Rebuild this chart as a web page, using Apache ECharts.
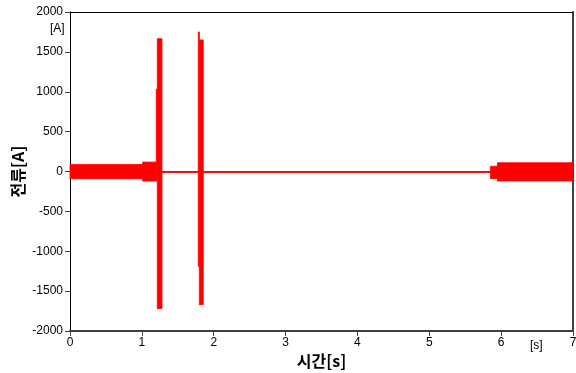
<!DOCTYPE html>
<html>
<head>
<meta charset="utf-8">
<script src="https://cdn.jsdelivr.net/npm/echarts@6/dist/echarts.min.js"></script>
<style>html,body{margin:0;padding:0;background:#fff;}#c{width:576px;height:373px;}</style>
</head>
<body>
<div id="c"></div>
<script>
// Envelope of the current signal: time segments [s] with upper / lower current [A]
var segStart = [0,    1.01, 1.200, 1.215, 1.280, 1.785, 1.800, 1.855, 5.85, 5.95];
var segEnd   = [1.01, 1.200, 1.216, 1.280, 1.785, 1.801, 1.855, 5.85, 5.95, 7.0];
var segUpper = [88,   118,  1030,  1665,  0,     1750,  1650,  0,    66,   110];
var segLower = [-90,  -120, -120,  -1720, 0,     -1190, -1670, 0,    -90,  -118];
// baseline trace
var lineTime = [0, 7];
var lineVal  = [0, 0];
var xTicks = [0, 1, 2, 3, 4, 5, 6, 7];
var yTicks = [-2000, -1500, -1000, -500, 0, 500, 1000, 1500, 2000];

var segData = segStart.map(function (s, i) { return [s, segEnd[i], segUpper[i], segLower[i]]; });
var lineData = lineTime.map(function (t, i) { return [t, lineVal[i]]; });

var chart = echarts.init(document.getElementById('c'), null, {renderer: 'canvas'});
var font = 'Liberation Sans, Arial, sans-serif';
var kfont = '"Noto Sans CJK KR", sans-serif';
chart.setOption({
  animation: false,
  backgroundColor: '#fff',
  grid: {left: 70, right: 3, top: 12, bottom: 42, containLabel: false, outerBoundsMode: 'none'},
  xAxis: [{
    type: 'value', min: xTicks[0], max: xTicks[xTicks.length - 1], interval: 1,
    position: 'bottom',
    name: '시간[s]', nameLocation: 'middle', nameGap: 22, nameMoveOverlap: false,
    nameTextStyle: {fontFamily: kfont, fontWeight: 'bold', fontSize: 16, color: '#000'},
    axisLine: {show: true, onZero: false, lineStyle: {color: '#404040', width: 2}},
    axisTick: {show: true, inside: false, length: 5, lineStyle: {color: '#404040', width: 1}},
    axisLabel: {color: '#000', fontFamily: font, fontSize: 12, margin: 6, formatter: function (v) { return String(v); }},
    splitLine: {show: false}
  }, {
    type: 'value', min: 0, max: 7, position: 'top',
    axisLine: {show: true, onZero: false, lineStyle: {color: '#000', width: 1}},
    axisTick: {show: false}, axisLabel: {show: false}, splitLine: {show: false}
  }],
  yAxis: [{
    type: 'value', min: yTicks[0], max: yTicks[yTicks.length - 1], interval: 500,
    position: 'left',
    name: '전류[A]', nameLocation: 'middle', nameGap: 44, nameRotate: 90, nameMoveOverlap: false,
    nameTextStyle: {fontFamily: kfont, fontWeight: 'bold', fontSize: 16, color: '#000'},
    axisLine: {show: true, onZero: false, lineStyle: {color: '#000', width: 1}},
    axisTick: {show: true, inside: false, length: 5, lineStyle: {color: '#404040', width: 1}},
    axisLabel: {color: '#000', fontFamily: font, fontSize: 12, margin: 7, formatter: function (v) { return String(v); }},
    splitLine: {show: false}
  }, {
    type: 'value', min: -2000, max: 2000, position: 'right',
    axisLine: {show: true, onZero: false, lineStyle: {color: '#404040', width: 2}},
    axisTick: {show: false}, axisLabel: {show: false}, splitLine: {show: false}
  }],
  graphic: [
    {type: 'text', left: 50, top: 23, style: {text: '[A]', font: '12px ' + font, fill: '#000'}},
    {type: 'text', left: 530, top: 340, style: {text: '[s]', font: '12px ' + font, fill: '#000'}}
  ],
  series: [{
    type: 'line', data: lineData, xAxisIndex: 0, yAxisIndex: 0,
    showSymbol: false, symbol: 'none', lineStyle: {color: '#ff0000', width: 1}, silent: true
  }, {
    type: 'custom', xAxisIndex: 0, yAxisIndex: 0, data: segData,
    encode: {x: [0, 1], y: [2, 3]},
    renderItem: function (params, api) {
      var p1 = api.coord([api.value(0), api.value(2)]);
      var p2 = api.coord([api.value(1), api.value(3)]);
      return {
        type: 'rect',
        shape: {x: p1[0], y: p1[1], width: Math.max(p2[0] - p1[0], 1), height: Math.max(p2[1] - p1[1], 1)},
        style: {fill: '#ff0000', stroke: '#ff0000', lineWidth: 0.8}
      };
    },
    silent: true
  }]
});
</script>
</body>
</html>
